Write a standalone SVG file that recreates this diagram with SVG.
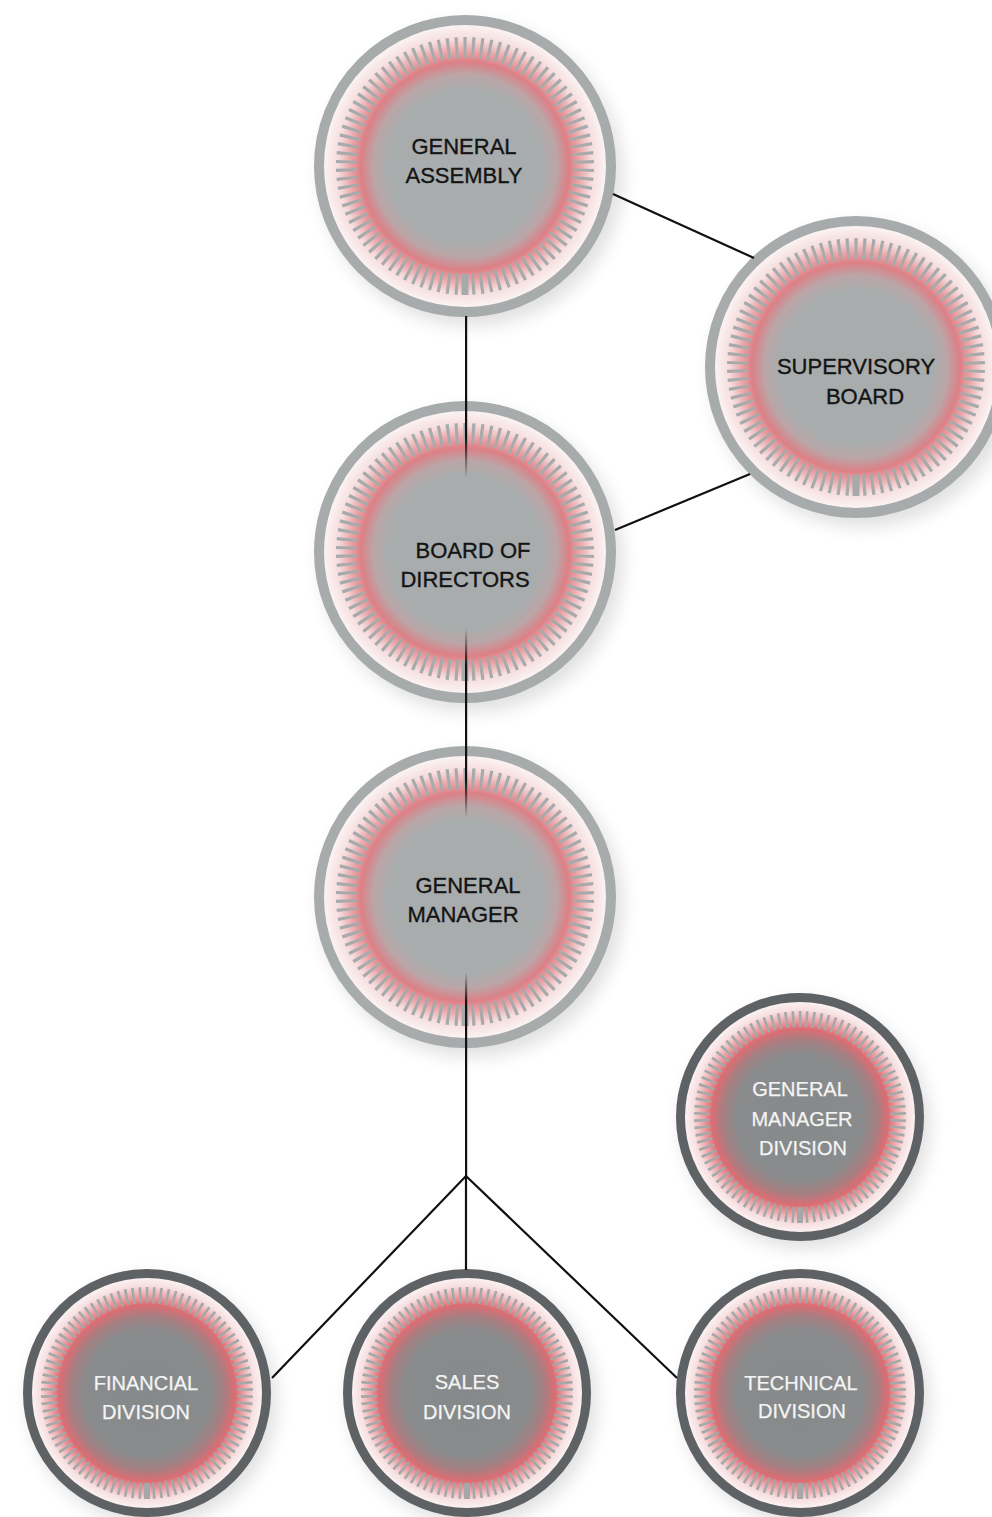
<svg xmlns="http://www.w3.org/2000/svg" xmlns:xlink="http://www.w3.org/1999/xlink" width="992" height="1517" viewBox="0 0 992 1517">
  <style>
    .big-text { font-family: "Liberation Sans", Arial, sans-serif; font-size: 22px; fill: #141414; stroke: #141414; stroke-width: 0.35; text-anchor: middle; }
    .small-text { font-family: "Liberation Sans", Arial, sans-serif; font-size: 20px; fill: #f4f4f4; stroke: #f4f4f4; stroke-width: 0.25; text-anchor: middle; }
    .conn { stroke: #111; stroke-width: 2.2; fill: none; }
    .shadow { fill: #000; opacity: 0.12; }
  </style>
  <defs>
    <filter id="blur" x="-30%" y="-30%" width="160%" height="160%">
      <feGaussianBlur stdDeviation="9"/>
    </filter>
    <radialGradient id="gBig">
      <stop offset="0" stop-color="#a9acad"/>
      <stop offset="0.55" stop-color="#a9acad"/>
      <stop offset="0.65" stop-color="#bba5a7"/>
      <stop offset="0.74" stop-color="#dc8086"/>
      <stop offset="0.82" stop-color="#eaa9ac"/>
      <stop offset="0.9" stop-color="#f6dcdd"/>
      <stop offset="1" stop-color="#fbf3f3"/>
    </radialGradient>
    <radialGradient id="gSmall">
      <stop offset="0" stop-color="#86898a"/>
      <stop offset="0.55" stop-color="#898b8c"/>
      <stop offset="0.67" stop-color="#a57f82"/>
      <stop offset="0.77" stop-color="#dc6d73"/>
      <stop offset="0.85" stop-color="#eca6a9"/>
      <stop offset="0.93" stop-color="#f7dfe0"/>
      <stop offset="1" stop-color="#fbf1f1"/>
    </radialGradient>
    <linearGradient id="fadeL1" gradientUnits="userSpaceOnUse" x1="0" y1="316" x2="0" y2="478">
      <stop offset="0" stop-color="#111" stop-opacity="1"/>
      <stop offset="0.75" stop-color="#111" stop-opacity="1"/>
      <stop offset="1" stop-color="#111" stop-opacity="0"/>
    </linearGradient>
    <linearGradient id="fadeL2" gradientUnits="userSpaceOnUse" x1="0" y1="628" x2="0" y2="818">
      <stop offset="0" stop-color="#111" stop-opacity="0"/>
      <stop offset="0.2" stop-color="#111" stop-opacity="1"/>
      <stop offset="0.8" stop-color="#111" stop-opacity="1"/>
      <stop offset="1" stop-color="#111" stop-opacity="0"/>
    </linearGradient>
    <linearGradient id="fadeL3" gradientUnits="userSpaceOnUse" x1="0" y1="972" x2="0" y2="1176">
      <stop offset="0" stop-color="#111" stop-opacity="0"/>
      <stop offset="0.15" stop-color="#111" stop-opacity="1"/>
      <stop offset="1" stop-color="#111" stop-opacity="1"/>
    </linearGradient>
    <g id="bigNode">
      <circle class="shadow" cx="7" cy="9" r="151" filter="url(#blur)"/>
      <circle r="141" fill="url(#gBig)"/>
      <circle r="146" fill="none" stroke="#a8abab" stroke-width="10"/>
      <circle r="118.5" fill="none" stroke="#a6aaaa" stroke-width="21" pathLength="360" stroke-dasharray="1.45 2.55" stroke-dashoffset="0.725" transform="rotate(2)"/>
      <rect x="-3.5" y="108" width="7" height="21" fill="#a6aaaa"/>
    </g>
    <g id="smallNode">
      <circle class="shadow" cx="6" cy="8" r="124" filter="url(#blur)"/>
      <circle r="115" fill="url(#gSmall)"/>
      <circle r="119.5" fill="none" stroke="#5f6264" stroke-width="9"/>
      <circle r="98" fill="none" stroke="#a4a8a9" stroke-width="16" pathLength="360" stroke-dasharray="1.45 2.55" stroke-dashoffset="0.725" transform="rotate(2)"/>
      <rect x="-3" y="90" width="6" height="16" fill="#a4a8a9"/>
    </g>
  </defs>

  <rect width="992" height="1517" fill="#ffffff"/>

  <g id="general-assembly">
    <use xlink:href="#bigNode" href="#bigNode" x="465" y="166"/>
    <text class="big-text" x="464" y="154">GENERAL</text>
    <text class="big-text" x="464" y="183">ASSEMBLY</text>
  </g>
  <g id="supervisory-board">
    <use xlink:href="#bigNode" href="#bigNode" x="856" y="367"/>
    <text class="big-text" x="856" y="374">SUPERVISORY</text>
    <text class="big-text" x="865" y="404">BOARD</text>
  </g>
  <g id="board-of-directors">
    <use xlink:href="#bigNode" href="#bigNode" x="465" y="552"/>
    <text class="big-text" x="473" y="558">BOARD OF</text>
    <text class="big-text" x="465" y="587">DIRECTORS</text>
  </g>
  <g id="general-manager">
    <use xlink:href="#bigNode" href="#bigNode" x="465" y="897"/>
    <text class="big-text" x="468" y="893">GENERAL</text>
    <text class="big-text" x="463" y="922">MANAGER</text>
  </g>
  <g id="general-manager-division">
    <use xlink:href="#smallNode" href="#smallNode" x="800" y="1117"/>
    <text class="small-text" x="800" y="1096">GENERAL</text>
    <text class="small-text" x="802" y="1126">MANAGER</text>
    <text class="small-text" x="803" y="1155">DIVISION</text>
  </g>
  <g id="financial-division">
    <use xlink:href="#smallNode" href="#smallNode" x="147" y="1393"/>
    <text class="small-text" x="146" y="1390">FINANCIAL</text>
    <text class="small-text" x="146" y="1419">DIVISION</text>
  </g>
  <g id="sales-division">
    <use xlink:href="#smallNode" href="#smallNode" x="467" y="1393"/>
    <text class="small-text" x="467" y="1389">SALES</text>
    <text class="small-text" x="467" y="1419">DIVISION</text>
  </g>
  <g id="technical-division">
    <use xlink:href="#smallNode" href="#smallNode" x="800" y="1393"/>
    <text class="small-text" x="801" y="1390">TECHNICAL</text>
    <text class="small-text" x="802" y="1418">DIVISION</text>
  </g>

  <g id="connectors">
    <line class="conn" x1="613" y1="194" x2="754" y2="258"/>
    <line class="conn" x1="615" y1="530" x2="750" y2="474"/>
    <rect x="465" y="316" width="2.2" height="162" fill="url(#fadeL1)"/>
    <rect x="465" y="628" width="2.2" height="190" fill="url(#fadeL2)"/>
    <rect x="465" y="972" width="2.2" height="204" fill="url(#fadeL3)"/>
    <polyline class="conn" points="272,1378 466,1176 677,1378"/>
    <line class="conn" x1="466" y1="1176" x2="466" y2="1270"/>
  </g>
</svg>
